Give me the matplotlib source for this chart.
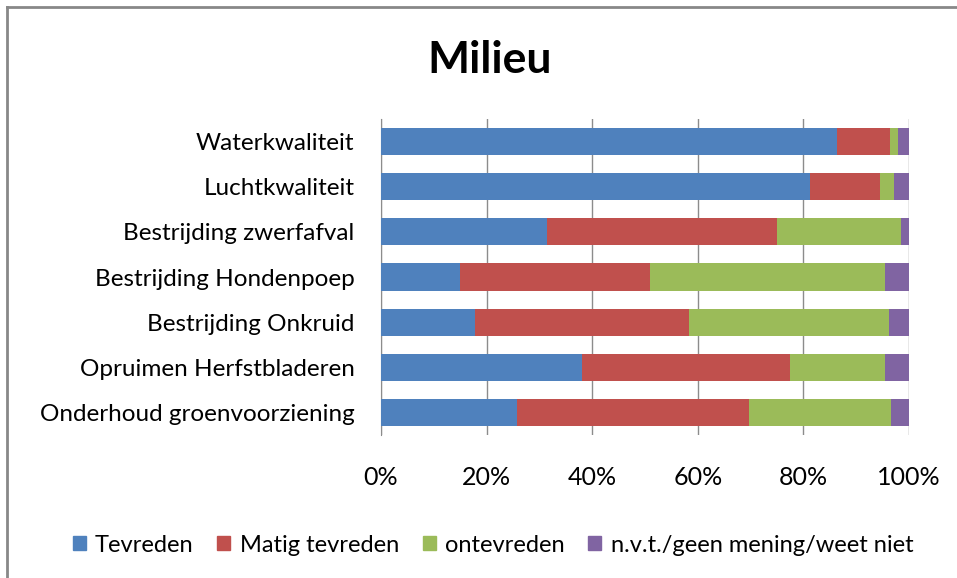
import numpy as np
import matplotlib.pyplot as plt
from matplotlib.lines import Line2D
from matplotlib.patches import Patch

categories = ['Waterkwaliteit', 'Luchtkwaliteit', 'Bestrijding zwerfafval',
              'Bestrijding Hondenpoep', 'Bestrijding Onkruid',
              'Opruimen Herfstbladeren', 'Onderhoud groenvoorziening']
tevreden = [86.3, 81.3, 31.4, 15.0, 17.9, 38.0, 25.8]
matig = [10.0, 13.1, 43.5, 35.9, 40.5, 39.4, 43.8]
ontevreden = [1.5, 2.7, 23.5, 44.5, 37.7, 18.0, 27.0]
nvt = [2.2, 2.9, 1.6, 4.6, 3.9, 4.6, 3.4]
series_names = ['Tevreden', 'Matig tevreden', 'ontevreden',
                'n.v.t./geen mening/weet niet']
colors = ['#4F81BD', '#C0504D', '#9BBB59', '#8064A2']
xticks = [0, 20, 40, 60, 80, 100]

plt.rcParams['font.family'] = ['Lato', 'DejaVu Sans']

fig = plt.figure(figsize=(9.57, 5.78), dpi=100)
ax = fig.add_axes([0.398, 0.2474, 0.552, 0.5466])

y = np.arange(len(categories))
left = np.zeros(len(categories))
for vals, name, c in zip([tevreden, matig, ontevreden, nvt], series_names, colors):
    ax.barh(y, vals, left=left, height=0.6, color=c, label=name, zorder=3)
    left += np.array(vals)

ax.set_xlim(0, 100)
ax.set_ylim(len(categories) - 0.5, -0.5)
ax.set_yticks(y)
ax.set_yticklabels(categories, fontsize=17.5)
ax.set_xticks(xticks)
ax.set_xticklabels([f'{t}%' for t in xticks], fontsize=18)
ax.tick_params(axis='y', length=0, pad=19)
ax.tick_params(axis='x', length=0, pad=22)
ax.grid(axis='x', color='#8c8c8c', linewidth=1, zorder=0)
for s in ['top', 'right', 'bottom']:
    ax.spines[s].set_visible(False)
ax.spines['left'].set_color('#8c8c8c')

fig.text(490 / 957, 1 - 60 / 578, 'Milieu', fontsize=32, fontweight='bold',
         ha='center', va='center')

handles = [Patch(color=c) for c in colors]
fig.legend(handles, series_names, loc='center', ncol=4, frameon=False,
           bbox_to_anchor=(493 / 957, 1 - 545 / 578), fontsize=17,
           handlelength=0.55, handleheight=0.55, handletextpad=0.4,
           columnspacing=1.0)

# outer chart border (only left and top visible in the crop)
fig.add_artist(Line2D([7 / 957, 7 / 957], [0, 1 - 7 / 578], color='#888888', lw=2))
fig.add_artist(Line2D([7 / 957, 1], [1 - 7 / 578, 1 - 7 / 578], color='#888888', lw=2))

fig.savefig('out.png', dpi=100)
